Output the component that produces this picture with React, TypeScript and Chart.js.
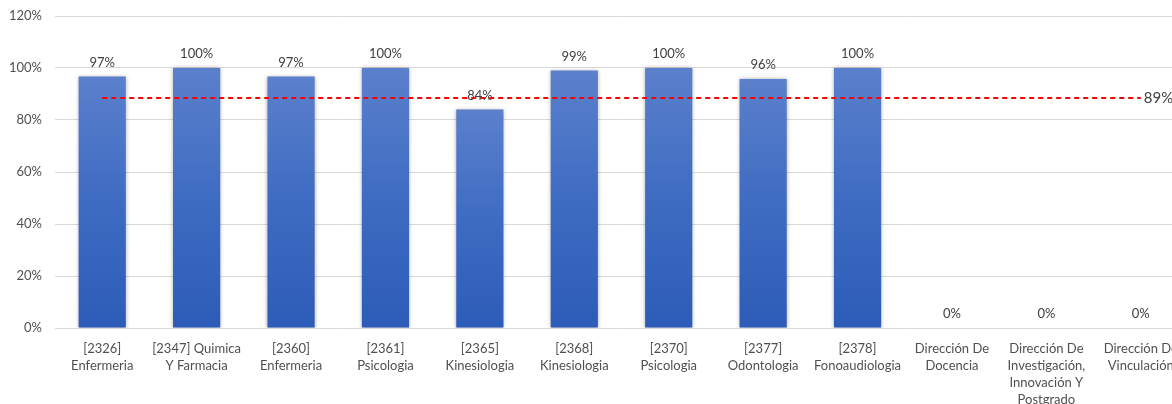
import React, { useEffect, useRef } from 'react';
import { Chart, registerables } from 'chart.js';

Chart.register(...registerables);

const categories: string[][] = [
  ['[2326]', 'Enfermeria'],
  ['[2347] Quimica', 'Y Farmacia'],
  ['[2360]', 'Enfermeria'],
  ['[2361]', 'Psicologia'],
  ['[2365]', 'Kinesiologia'],
  ['[2368]', 'Kinesiologia'],
  ['[2370]', 'Psicologia'],
  ['[2377]', 'Odontologia'],
  ['[2378]', 'Fonoaudiologia'],
  ['Dirección De', 'Docencia'],
  ['Dirección De', 'Investigación,', 'Innovación Y', 'Postgrado'],
  ['Dirección De', 'Vinculación'],
];

const values: number[] = [0.967, 1.0, 0.967, 1.0, 0.84, 0.99, 1.0, 0.958, 1.0, 0, 0, 0];

const averageLine: number[] = [0.885, 0.885, 0.885, 0.885, 0.885, 0.885, 0.885, 0.885, 0.885, 0.885, 0.885, 0.885];

const yTickValues: number[] = [0, 0.2, 0.4, 0.6, 0.8, 1.0, 1.2];

const FONT = 'Lato, "Open Sans", sans-serif';
const pct = (v: number) => `${Math.round(v * 100)}%`;

const barShadow = {
  id: 'barShadow',
  beforeDatasetDraw(chart: any, args: any) {
    if (chart.data.datasets[args.index].type === 'bar') {
      const ctx = chart.ctx;
      ctx.save();
      ctx.shadowColor = 'rgba(0,0,0,0.32)';
      ctx.shadowBlur = 4;
      ctx.shadowOffsetX = 0;
      ctx.shadowOffsetY = 0;
    }
  },
  afterDatasetDraw(chart: any, args: any) {
    if (chart.data.datasets[args.index].type === 'bar') {
      chart.ctx.restore();
    }
  },
};

const valueLabels = {
  id: 'valueLabels',
  afterDatasetsDraw(chart: any) {
    const ctx = chart.ctx;
    chart.data.datasets.forEach((ds: any, di: number) => {
      const meta = chart.getDatasetMeta(di);
      if (ds.type === 'bar') {
        ctx.save();
        ctx.font = `13px ${FONT}`;
        ctx.fillStyle = '#404040';
        ctx.textAlign = 'center';
        ctx.textBaseline = 'alphabetic';
        meta.data.forEach((el: any, i: number) => {
          ctx.fillText(pct(ds.data[i]), el.x, el.y - 10);
        });
        ctx.restore();
      } else if (ds.type === 'line') {
        const last = meta.data[meta.data.length - 1];
        ctx.save();
        ctx.font = `15px ${FONT}`;
        ctx.fillStyle = '#404040';
        ctx.textAlign = 'left';
        ctx.textBaseline = 'middle';
        ctx.fillText(pct(ds.data[ds.data.length - 1]), last.x + 3, last.y);
        ctx.restore();
      }
    });
  },
};

export default function App() {
  const ref = useRef<HTMLCanvasElement | null>(null);

  useEffect(() => {
    if (!ref.current) return;
    const chart = new Chart(ref.current, {
      type: 'bar',
      data: {
        labels: categories,
        datasets: [
          {
            type: 'line',
            data: averageLine,
            borderColor: '#FF0000',
            borderWidth: 2,
            borderDash: [5, 4],
            pointRadius: 0,
            fill: false,
            order: 0,
          } as any,
          {
            type: 'bar',
            data: values,
            barPercentage: 0.5,
            categoryPercentage: 1,
            borderWidth: 0,
            order: 1,
            backgroundColor: (c: any) => {
              const ch = c.chart;
              if (!ch.chartArea || c.type !== 'data') return '#4170C4';
              const y = ch.scales.y;
              const top = y.getPixelForValue(c.raw);
              const bottom = y.getPixelForValue(0);
              if (bottom - top < 1) return '#2E5DB9';
              const g = ch.ctx.createLinearGradient(0, top, 0, bottom);
              g.addColorStop(0, '#5B80CC');
              g.addColorStop(0.5, '#3E6CC2');
              g.addColorStop(1, '#2D5CB8');
              return g;
            },
          } as any,
        ],
      },
      options: {
        animation: false,
        responsive: false,
        devicePixelRatio: 1,
        layout: { padding: { top: 16, left: 0, right: 0, bottom: 0 } },
        plugins: {
          legend: { display: false },
          tooltip: { enabled: false },
        },
        scales: {
          x: {
            grid: { display: false },
            border: { display: false },
            ticks: {
              autoSkip: false,
              maxRotation: 0,
              minRotation: 0,
              padding: 4,
              color: '#505050',
              font: { family: FONT, size: 13, lineHeight: 1.32 },
            },
            afterFit: (s: any) => {
              s.height = 112;
            },
          },
          y: {
            min: 0,
            max: 1.2,
            afterBuildTicks: (s: any) => {
              s.ticks = yTickValues.map((v) => ({ value: v }));
            },
            grid: { color: '#D9D9D9', lineWidth: 1, drawTicks: false },
            border: { display: false },
            ticks: {
              padding: 13,
              color: '#505050',
              font: { family: FONT, size: 13 },
              callback: (v: any) => pct(Number(v)),
            },
            afterFit: (s: any) => {
              s.width = 55;
              s.paddingTop = 8;
              s.paddingBottom = 0;
            },
          },
        },
      },
      plugins: [barShadow, valueLabels],
    });
    return () => chart.destroy();
  }, []);

  return (
    <div
      style={{
        position: 'absolute',
        left: 0,
        top: 0,
        width: 1172,
        height: 404,
        overflow: 'hidden',
        background: '#ffffff',
      }}
    >
      <canvas ref={ref} width={1188} height={440} style={{ display: 'block' }} />
    </div>
  );
}
